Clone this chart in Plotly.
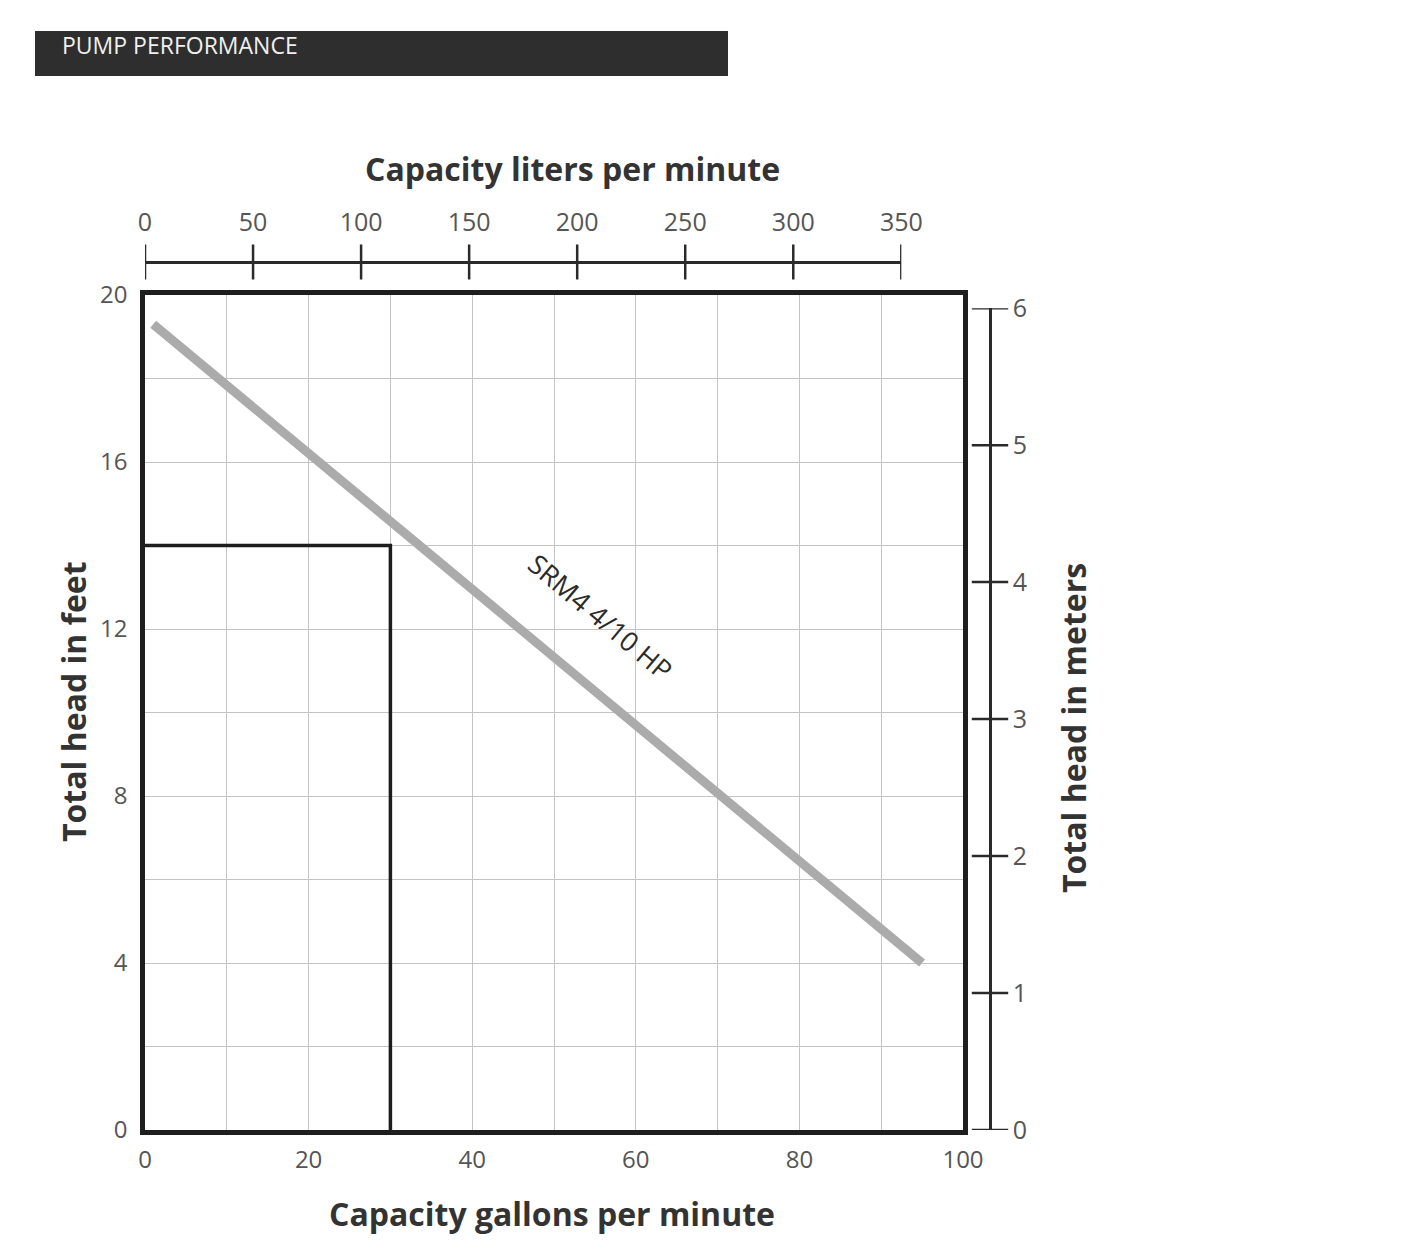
import plotly.graph_objects as go

# ---- data ----
gpm_ticks = [0, 20, 40, 60, 80, 100]
feet_ticks = [0, 4, 8, 12, 16, 20]
lpm_ticks = [0, 50, 100, 150, 200, 250, 300, 350]
meter_ticks = [0, 1, 2, 3, 4, 5, 6]
curve_gpm = [1, 95]
curve_ft = [19.3, 4.0]
box_gpm = [0, 30, 30]
box_ft = [14, 14, 0]
curve_label = "SRM4 4/10 HP"
label_gpm, label_ft = 55.7, 12.3

GAL_TO_L = 3.78541
FT_TO_M = 0.3048

WIN_W, WIN_H = 1417, 1256
OFF = 8  # body margin of the page
W, H = WIN_W - 2 * OFF, WIN_H - 2 * OFF
def fx(px): return (px - OFF) / W
def fy(py): return 1 - (py - OFF) / H

xd = [fx(145), fx(963)]
yd = [fy(1130), fy(295)]
x_max_gpm = 100
y_max_ft = 20
x2_top = xd[0] + (xd[1] - xd[0]) * lpm_ticks[-1] / (x_max_gpm * GAL_TO_L)
y2_top = yd[0] + (yd[1] - yd[0]) * meter_ticks[-1] / (y_max_ft * FT_TO_M)
TOP_AXIS_PX = 262
RIGHT_AXIS_PX = 990

TXT = "#3a3a3a"
FONT = "Open Sans"
tick_col = "#2a2a2a"

fig = go.Figure()
fig.add_trace(go.Scatter(x=box_gpm, y=box_ft, mode="lines",
                         line=dict(color="#1e1e1e", width=3.5),
                         hoverinfo="skip", showlegend=False))
fig.add_trace(go.Scatter(x=curve_gpm, y=curve_ft, mode="lines",
                         line=dict(color="#ababab", width=9),
                         showlegend=False))
# crossing tick marks of the liters scale
fig.add_trace(go.Scatter(x=lpm_ticks, y=[0] * len(lpm_ticks),
                         xaxis="x2", yaxis="y4", mode="markers",
                         marker=dict(symbol="line-ns", size=25,
                                     line=dict(width=2.5, color=tick_col)),
                         hoverinfo="skip", showlegend=False))
# crossing tick marks of the meters scale
fig.add_trace(go.Scatter(x=[0] * len(meter_ticks), y=meter_ticks,
                         xaxis="x4", yaxis="y2", mode="markers",
                         marker=dict(symbol="line-ew", size=26,
                                     line=dict(width=2.5, color=tick_col)),
                         hoverinfo="skip", showlegend=False))

grid = "#c4c4c4"
fig.update_layout(
    width=W, height=H, template="none",
    paper_bgcolor="white", plot_bgcolor="rgba(0,0,0,0)",
    margin=dict(l=0, r=0, t=0, b=0),
    font=dict(family=FONT, color=TXT),
    xaxis=dict(domain=xd, range=[0, x_max_gpm], tickvals=gpm_ticks,
               showgrid=True, gridcolor=grid, gridwidth=1,
               minor=dict(dtick=10, showgrid=True, gridcolor=grid, gridwidth=1),
               showline=True, linecolor="#1e1e1e", linewidth=4.5, mirror=True,
               ticks="", zeroline=False, tickfont=dict(size=24, color="#555"),
               ticklabelstandoff=4, automargin=False, fixedrange=True),
    yaxis=dict(domain=yd, range=[0, y_max_ft], tickvals=feet_ticks,
               showgrid=True, gridcolor=grid, gridwidth=1,
               minor=dict(dtick=2, showgrid=True, gridcolor=grid, gridwidth=1),
               showline=True, linecolor="#1e1e1e", linewidth=4.5, mirror=True,
               ticks="", zeroline=False, tickfont=dict(size=24, color="#555"),
               ticklabelstandoff=8, automargin=False, fixedrange=True),
    # top liters axis (line + labels)
    xaxis2=dict(domain=[xd[0], x2_top], range=[0, lpm_ticks[-1]], tickvals=lpm_ticks,
                anchor="free", position=fy(TOP_AXIS_PX), side="top",
                showline=True, linecolor=tick_col, linewidth=2.5,
                ticks="", showgrid=False, zeroline=False,
                tickfont=dict(size=25, color="#555"), ticklabelstandoff=20,
                automargin=False, fixedrange=True),
    yaxis4=dict(domain=[fy(TOP_AXIS_PX + 20), fy(TOP_AXIS_PX - 20)], range=[-1, 1],
                anchor="x2", visible=False, fixedrange=True),
    # right meters axis (line + labels)
    yaxis2=dict(domain=[yd[0], y2_top], range=[0, meter_ticks[-1]], tickvals=meter_ticks,
                anchor="free", position=fx(RIGHT_AXIS_PX), side="right",
                showline=True, linecolor=tick_col, linewidth=2.5,
                ticks="", showgrid=False, zeroline=False,
                tickfont=dict(size=25, color="#555"), ticklabelstandoff=16,
                automargin=False, fixedrange=True),
    xaxis4=dict(domain=[fx(RIGHT_AXIS_PX - 20), fx(RIGHT_AXIS_PX + 20)], range=[-1, 1],
                anchor="y2", visible=False, fixedrange=True),
)

# header bar
fig.add_shape(type="rect", xref="paper", yref="paper",
              x0=fx(35), x1=fx(728), y0=fy(76), y1=fy(31),
              fillcolor="#2e2e2e", line=dict(width=0), layer="below")
fig.add_annotation(xref="paper", yref="paper", x=fx(60), y=fy(45),
                   text="PUMP PERFORMANCE", showarrow=False,
                   xanchor="left", yanchor="middle",
                   font=dict(size=23, color="#f0f0f0", family=FONT))

title_font = dict(size=32, color="#333", family=FONT, weight="bold")
for tx, ty, txt, ang in [(572, 168, "Capacity liters per minute", 0),
                         (552, 1213, "Capacity gallons per minute", 0),
                         (73, 702, "Total head in feet", -90),
                         (1073, 728, "Total head in meters", -90)]:
    fig.add_annotation(xref="paper", yref="paper", x=fx(tx), y=fy(ty),
                       text=txt, showarrow=False, textangle=ang,
                       xanchor="center", yanchor="middle", font=title_font)

fig.add_annotation(x=label_gpm, y=label_ft, xref="x", yref="y",
                   text=curve_label, showarrow=False, textangle=40,
                   xanchor="center", yanchor="middle",
                   font=dict(size=27, color="#2a2a2a", family=FONT))

fig.write_html("out.html")
